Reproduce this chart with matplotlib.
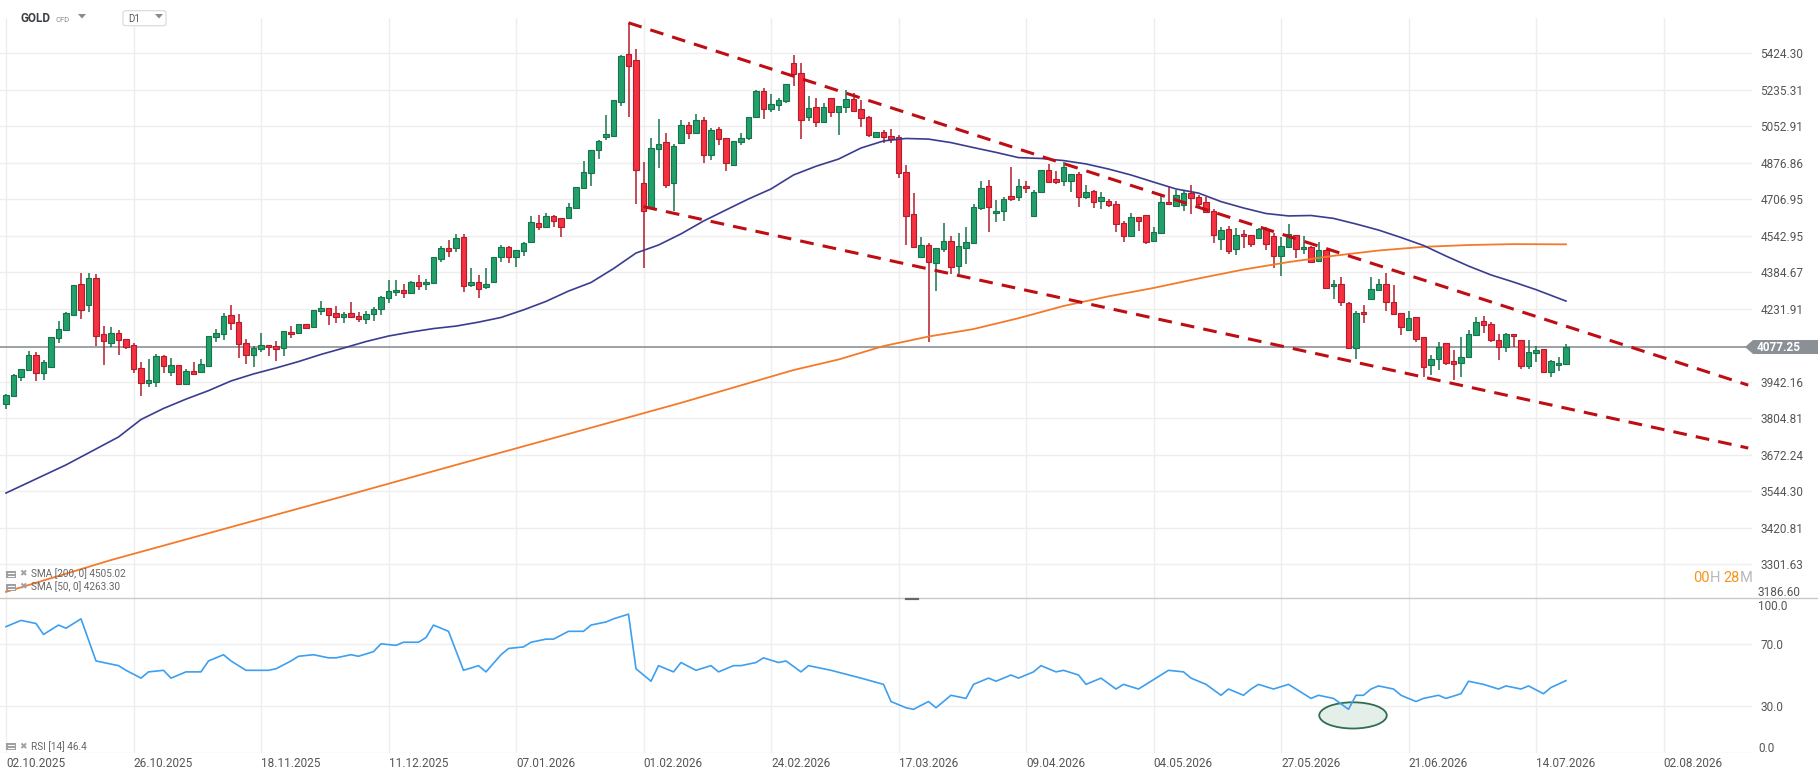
import matplotlib
matplotlib.use("Agg")
import matplotlib.pyplot as plt
from matplotlib.patches import Ellipse, Polygon, FancyBboxPatch, Rectangle
from matplotlib.lines import Line2D
from matplotlib.ticker import FixedLocator, FixedFormatter, NullLocator

plt.rcParams['font.family'] = ['Roboto', 'DejaVu Sans']

# daily OHLC of GOLD CFD, bar 0 = 02.10.2025
opens = [3857, 3889, 3961, 3986, 4046, 3975, 4000, 4112, 4144, 4206,
         4333, 4246, 4359, 4128, 4095, 4132, 4108, 4084, 3994, 3936,
         3942, 4042, 3981, 4006, 3932, 3982, 3978, 4003, 4117, 4128,
         4205, 4176, 4092, 4045, 4068, 4084, 4080, 4072, 4137, 4132,
         4168, 4156, 4221, 4234, 4213, 4199, 4213, 4201, 4189, 4209,
         4229, 4278, 4300, 4309, 4299, 4342, 4334, 4338, 4441, 4488,
         4490, 4539, 4331, 4342, 4323, 4342, 4449, 4495, 4451, 4477,
         4517, 4598, 4583, 4632, 4621, 4623, 4668, 4757, 4830, 4936,
         5002, 5007, 5172, 5420, 5387, 4780, 4670, 4941, 4974, 4780,
         4973, 5057, 5018, 5083, 4915, 5038, 4994, 4865, 4974, 4994,
         5099, 5227, 5137, 5157, 5177, 5372, 5320, 5097, 5147, 5075,
         5192, 5125, 5147, 5188, 5138, 5099, 4999, 5023, 5005, 4999,
         4832, 4638, 4449, 4501, 4423, 4483, 4518, 4410, 4488, 4509,
         4666, 4766, 4643, 4652, 4720, 4716, 4766, 4629, 4739, 4841,
         4799, 4790, 4790, 4822, 4716, 4743, 4697, 4697, 4684, 4598,
         4540, 4625, 4634, 4518, 4554, 4693, 4675, 4679, 4734, 4716,
         4693, 4652, 4527, 4571, 4483, 4551, 4545, 4532, 4571, 4540,
         4455, 4495, 4545, 4483, 4492, 4434, 4480, 4325, 4334, 4254,
         4072, 4218, 4271, 4308, 4334, 4258, 4213, 4144, 4197, 4117,
         4006, 4029, 4092, 4021, 4014, 4037, 4124, 4180, 4168, 4104,
         4079, 4128, 4104, 4002, 4052, 4068, 3978, 4006, 4009]
highs = [3894, 3972, 3991, 4062, 4056, 4026, 4117, 4182, 4217, 4331,
         4383, 4383, 4377, 4161, 4156, 4145, 4110, 4095, 4020, 4029,
         4050, 4046, 4033, 4007, 3990, 4020, 4029, 4121, 4148, 4213,
         4246, 4210, 4108, 4083, 4132, 4086, 4100, 4141, 4161, 4170,
         4170, 4228, 4264, 4236, 4243, 4217, 4260, 4217, 4223, 4238,
         4283, 4352, 4352, 4334, 4346, 4373, 4356, 4449, 4498, 4524,
         4551, 4549, 4401, 4373, 4401, 4451, 4502, 4497, 4482, 4517,
         4631, 4635, 4643, 4634, 4622, 4691, 4763, 4885, 4938, 4986,
         5108, 5183, 5414, 5587, 5447, 4879, 4994, 5087, 5018, 4966,
         5083, 5072, 5112, 5097, 5043, 5049, 4996, 4981, 5018, 5098,
         5234, 5243, 5214, 5193, 5264, 5415, 5372, 5204, 5192, 5167,
         5193, 5155, 5234, 5218, 5183, 5101, 5025, 5034, 5038, 5010,
         4866, 4734, 4539, 4509, 4489, 4598, 4542, 4554, 4583, 4685,
         4791, 4796, 4703, 4716, 4855, 4800, 4791, 4749, 4843, 4871,
         4838, 4879, 4824, 4832, 4772, 4749, 4739, 4707, 4699, 4607,
         4643, 4627, 4636, 4583, 4720, 4762, 4749, 4749, 4771, 4725,
         4716, 4661, 4583, 4586, 4576, 4568, 4546, 4576, 4583, 4554,
         4539, 4595, 4546, 4542, 4499, 4514, 4482, 4352, 4363, 4258,
         4221, 4246, 4366, 4355, 4380, 4329, 4215, 4221, 4199, 4118,
         4045, 4096, 4094, 4064, 4117, 4144, 4198, 4201, 4176, 4130,
         4132, 4130, 4106, 4104, 4081, 4070, 4026, 4039, 4088]
lows = [3839, 3886, 3946, 3984, 3946, 3949, 3996, 4095, 4142, 4203,
        4189, 4220, 4083, 4008, 4079, 4047, 4068, 3975, 3888, 3921,
        3921, 3977, 3965, 3930, 3930, 3968, 3976, 4000, 4099, 4105,
        4145, 4035, 4012, 4000, 4059, 4043, 4023, 4043, 4112, 4130,
        4148, 4154, 4206, 4166, 4175, 4175, 4197, 4179, 4171, 4183,
        4207, 4257, 4286, 4275, 4297, 4309, 4309, 4336, 4430, 4451,
        4473, 4302, 4323, 4278, 4312, 4340, 4430, 4425, 4408, 4455,
        4512, 4568, 4580, 4583, 4539, 4617, 4661, 4755, 4768, 4894,
        4986, 5005, 5154, 5099, 4686, 4404, 4668, 4853, 4760, 4655,
        4965, 4989, 5016, 4877, 4888, 4961, 4839, 4863, 4961, 4986,
        5095, 5088, 5122, 5130, 5167, 5256, 4990, 5080, 5051, 5070,
        5099, 5010, 5120, 5128, 5051, 5002, 4997, 4970, 4970, 4804,
        4502, 4490, 4447, 4099, 4307, 4473, 4377, 4377, 4418, 4507,
        4658, 4558, 4602, 4610, 4700, 4700, 4734, 4628, 4737, 4783,
        4776, 4766, 4739, 4670, 4710, 4666, 4661, 4670, 4558, 4514,
        4539, 4562, 4506, 4514, 4549, 4682, 4673, 4652, 4638, 4670,
        4646, 4512, 4480, 4463, 4457, 4490, 4495, 4530, 4480, 4404,
        4370, 4488, 4447, 4463, 4425, 4430, 4315, 4271, 4243, 4070,
        4029, 4172, 4268, 4307, 4221, 4205, 4125, 4140, 4097, 3961,
        3967, 3986, 4006, 3949, 3961, 4035, 4122, 4132, 4096, 4025,
        4059, 4079, 3990, 3990, 4020, 3975, 3961, 3984, 4006]
closes = [3892, 3968, 3990, 4046, 3977, 4017, 4116, 4148, 4213, 4329,
          4225, 4359, 4123, 4100, 4132, 4104, 4079, 3990, 3936, 3948,
          4043, 4002, 4006, 3932, 3982, 3972, 4011, 4120, 4132, 4201,
          4172, 4088, 4045, 4072, 4084, 4077, 4068, 4140, 4128, 4168,
          4154, 4227, 4235, 4205, 4199, 4209, 4199, 4189, 4209, 4231,
          4282, 4305, 4309, 4299, 4342, 4328, 4342, 4448, 4488, 4477,
          4532, 4328, 4342, 4312, 4334, 4449, 4495, 4451, 4480, 4509,
          4602, 4583, 4631, 4610, 4580, 4670, 4762, 4832, 4936, 4981,
          5014, 5182, 5412, 5359, 4844, 4655, 4946, 4965, 4774, 4955,
          5057, 5018, 5083, 4915, 5033, 4989, 4874, 4979, 4994, 5097,
          5227, 5137, 5162, 5182, 5263, 5314, 5082, 5142, 5075, 5150,
          5125, 5153, 5188, 5130, 5092, 5010, 5023, 4999, 4992, 4827,
          4632, 4492, 4501, 4427, 4488, 4518, 4408, 4497, 4514, 4670,
          4757, 4670, 4652, 4707, 4709, 4766, 4757, 4739, 4841, 4785,
          4785, 4855, 4822, 4716, 4739, 4693, 4716, 4679, 4594, 4540,
          4625, 4607, 4517, 4558, 4693, 4684, 4725, 4734, 4711, 4684,
          4647, 4545, 4568, 4477, 4545, 4540, 4505, 4571, 4505, 4453,
          4497, 4549, 4483, 4492, 4430, 4480, 4317, 4334, 4258, 4072,
          4213, 4209, 4312, 4334, 4258, 4209, 4156, 4193, 4108, 3998,
          4029, 4076, 4016, 4009, 4037, 4128, 4176, 4164, 4104, 4079,
          4128, 4120, 4002, 4056, 4064, 3978, 4021, 4014, 4077.25]

# moving averages (bar index, value)
sma50_bars = [0, 8, 15, 18, 21, 24, 27, 30, 33, 36, 39, 42, 45, 48, 51, 54, 57, 60,
              63, 66, 69, 72, 75, 78, 81, 84, 87, 90, 93, 96, 99, 102, 105, 108,
              111, 114, 117, 120, 123, 126, 129, 132, 135, 138, 141, 144, 147, 150,
              153, 156, 159, 162, 165, 168, 171, 174, 177, 180, 183, 186, 189, 192,
              195, 198, 201, 204, 208]
sma50_vals = [3538, 3636, 3736, 3800, 3841, 3876, 3908, 3945, 3972, 3995, 4020, 4048,
              4073, 4099, 4121, 4137, 4151, 4161, 4177, 4196, 4227, 4262, 4305, 4341,
              4400, 4467, 4502, 4551, 4608, 4658, 4708, 4754, 4819, 4860, 4894, 4947,
              4981, 4993, 4990, 4973, 4949, 4926, 4901, 4897, 4887, 4871, 4847, 4819,
              4786, 4754, 4735, 4696, 4667, 4642, 4631, 4633, 4620, 4595, 4568, 4535,
              4500, 4454, 4411, 4373, 4343, 4311, 4263.30]
sma200_bars = [0, 14, 30, 45, 60, 75, 90, 105, 111, 117, 123, 129, 135, 141, 147,
               153, 159, 165, 171, 177, 183, 189, 195, 201, 208]
sma200_vals = [3214, 3315, 3423, 3527, 3636, 3747, 3862, 3987, 4028, 4081, 4119,
               4149, 4193, 4243, 4283, 4318, 4358, 4396, 4428, 4455, 4478, 4494,
               4502, 4506, 4505.02]

rsi_bars = [0, 2, 4, 5, 7, 8, 10, 12, 13, 15, 16, 18, 19, 21, 22, 24, 26, 27, 29, 30,
            32, 33, 35, 36, 38, 39, 41, 43, 44, 46, 47, 49, 50, 52, 53, 55, 56, 57, 59,
            61, 63, 64, 66, 67, 69, 70, 72, 73, 75, 77, 78, 80, 81, 83, 84, 86, 87, 89,
            90, 92, 94, 95, 97, 98, 100, 101, 103, 104, 106, 107, 110, 114, 117, 118,
            120, 121, 123, 124, 126, 128, 129, 131, 132, 134, 135, 137, 138, 140, 141,
            143, 144, 146, 148, 149, 151, 152, 154, 155, 157, 158, 160, 162, 163, 165,
            166, 167, 169, 171, 172, 174, 175, 177, 179, 180, 181, 182, 183, 185, 186,
            188, 189, 191, 192, 194, 195, 197, 199, 200, 202, 203, 205, 206, 208]
rsi_vals = [81, 85, 83, 76, 82, 80, 86, 59, 58, 56, 53, 48, 52, 53, 48, 52, 52, 59, 63, 59,
            53, 53, 53, 54, 59, 62, 63, 61, 61, 63, 62, 65, 70, 69, 71, 71, 74, 82, 78,
            53, 56, 52, 63, 67, 68, 71, 73, 73, 78, 78, 82, 84, 86, 89, 54, 46, 56, 52,
            58, 53, 56, 52, 56, 56, 58, 61, 58, 59, 52, 56, 53, 48, 44, 33,
            29, 28, 33, 29, 37, 35, 44, 48, 46, 50, 48, 52, 56, 52, 53,
            50, 44, 48, 41, 44, 41, 44, 50, 53, 52, 48, 44, 37, 41, 37,
            41, 44, 41, 44, 41, 35, 37, 35, 28, 37, 37, 41, 43, 41, 37,
            33, 35, 37, 35, 38, 46, 44, 41, 43, 41, 43, 38, 42, 46.4]

# channel lines drawn on the chart: (bar, price) start and end
upper_line = [(83, 5587), (232.3, 3929)]
lower_line = [(85, 4673), (232.3, 3696)]

price_ticks = [3301.63, 3420.81, 3544.30, 3672.24, 3804.81, 3942.16,
               4231.91, 4384.67, 4542.95, 4706.95, 4876.86, 5052.91, 5235.31, 5424.30]
bottom_tick = 3186.60
last_price = 4077.25
date_labels = ['02.10.2025', '26.10.2025', '18.11.2025', '11.12.2025', '07.01.2026',
               '01.02.2026', '24.02.2026', '17.03.2026', '09.04.2026', '04.05.2026',
               '27.05.2026', '21.06.2026', '14.07.2026', '02.08.2026']
bars_per_label = 17

W, H = 1818, 779
fig = plt.figure(figsize=(W / 100, H / 100), dpi=100)
fig.patch.set_facecolor('white')


def fy(py):
    return 1 - py / H


ax = fig.add_axes([0, fy(600.7), 1752 / W, (600.7 - 18) / H])
ax_rsi = fig.add_axes([0, fy(753), 1752 / W, (753 - 597) / H])

grid_c = '#eeeeee'
txt_c = '#555555'
x_ticks = [k * bars_per_label for k in range(len(date_labels))]

# ---- price panel ----
ax.set_yscale('log')
ax.set_ylim(bottom_tick, 5613)
ax.set_xlim(-0.8, 232.8)
for s in ax.spines.values():
    s.set_visible(False)
for p in price_ticks:
    ax.axhline(p, color=grid_c, lw=1, zorder=0)
for xt in x_ticks:
    ax.axvline(xt, color=grid_c, lw=1, zorder=0)

g_fill, g_edge = '#22a06b', '#16744a'
r_fill, r_edge = '#f5303f', '#b31c2b'
for i in range(len(closes)):
    o, h, l, c = opens[i], highs[i], lows[i], closes[i]
    up = c >= o
    fc, ec = (g_fill, g_edge) if up else (r_fill, r_edge)
    ax.vlines(i, l, h, color=ec, lw=1.1, zorder=2)
    lo, hi = min(o, c), max(o, c)
    if hi - lo < 1.5:
        hi = lo + 1.5
    ax.bar(i, hi - lo, bottom=lo, width=0.68, color=fc, edgecolor=ec,
           linewidth=0.8, zorder=3)

ax.plot(sma200_bars, sma200_vals, color='#f47a2a', lw=1.3, zorder=4)
ax.plot(sma50_bars, sma50_vals, color='#3a3d8f', lw=1.2, zorder=4)

for line in (upper_line, lower_line):
    xs = [pt[0] for pt in line]
    ys = [pt[1] for pt in line]
    ax.plot(xs, ys, color='#bf0d14', lw=2.2, ls=(0, (4.5, 3)), zorder=5)

ax.axhline(last_price, color='#8c9196', lw=1.2, zorder=1)

ax.yaxis.tick_right()
ax.yaxis.set_major_locator(FixedLocator(price_ticks))
ax.yaxis.set_major_formatter(FixedFormatter(['%.2f' % p for p in price_ticks]))
ax.yaxis.set_minor_locator(NullLocator())
ax.tick_params(axis='y', length=0, pad=6, labelsize=8.5, labelcolor=txt_c)
ax.set_xticks([])

# ---- RSI panel ----
ax_rsi.set_xlim(-0.8, 232.8)
ax_rsi.set_ylim(0, 100)
ax_rsi.set_facecolor('white')
for s in ax_rsi.spines.values():
    s.set_visible(False)
for v in (0, 30, 70):
    ax_rsi.axhline(v, color=grid_c, lw=1, zorder=0)
for xt in x_ticks:
    ax_rsi.axvline(xt, color=grid_c, lw=1, zorder=0)
ax_rsi.add_patch(Ellipse((179.6, 24.1), 9.0, 16.8, facecolor='#e3efe8',
                         edgecolor='#2f6e51', lw=1.3, zorder=2))
ax_rsi.plot(rsi_bars, rsi_vals, color='#3c9ff0', lw=1.2, zorder=3)
ax_rsi.yaxis.tick_right()
ax_rsi.set_yticks([30, 70])
ax_rsi.set_yticklabels(['30.0', '70.0'])
ax_rsi.tick_params(axis='y', length=0, pad=6, labelsize=8.5, labelcolor=txt_c)
ax_rsi.set_xticks(x_ticks)
ax_rsi.set_xticklabels(date_labels)
ax_rsi.tick_params(axis='x', length=0, pad=3, labelsize=8.5, labelcolor=txt_c)
for lbl in ax_rsi.get_xticklabels():
    lbl.set_ha('left')

# edge labels that the chart pulls inside its panels
fig.text(1758 / W, fy(592.5), '%.2f' % bottom_tick, fontsize=8.5, color=txt_c,
         va='center', ha='left')
fig.text(1758 / W, fy(607), '100.0', fontsize=8.5, color=txt_c, va='center', ha='left')
fig.text(1758 / W, fy(748), '0.0', fontsize=8.5, color=txt_c, va='center', ha='left')

# ---- decorations in figure pixels ----
fig.add_artist(Line2D([0, 1], [fy(598), fy(598)], color='#c9c9c9', lw=1))
fig.add_artist(Line2D([906 / W, 918 / W], [fy(599), fy(599)], color='#666666', lw=1.6))

# current price tag
ty = ax.transData.transform((0, last_price))[1] / H
tag = Polygon([(1745 / W, ty), (1753 / W, ty + 7 / H), (1818 / W, ty + 7 / H),
               (1818 / W, ty - 7 / H), (1753 / W, ty - 7 / H)], closed=True,
              transform=fig.transFigure, facecolor='#8a9095', edgecolor='none')
fig.add_artist(tag)
fig.text(1757 / W, ty, '%.2f' % last_price, color='white', fontsize=8.5,
         fontweight='bold', va='center', ha='left')

# header
fig.text(20.5 / W, fy(18.5), 'GOLD', fontsize=8.5, fontweight='bold', color='#3a3f44',
         va='center', ha='left')
fig.text(55 / W, fy(19.5), 'CFD', fontsize=5.5, color='#8a8a8a', va='center', ha='left')
fig.add_artist(FancyBboxPatch((123 / W, fy(25.7)), 43 / W, 15 / H,
                              boxstyle='round,pad=0,rounding_size=0.002',
                              transform=fig.transFigure, facecolor='white',
                              edgecolor='#d8d8d8', lw=0.8, zorder=5))
for cx in (82, 159):
    fig.add_artist(Polygon([((cx - 4) / W, fy(14)), ((cx + 4) / W, fy(14)), (cx / W, fy(18.5))],
                           closed=True, transform=fig.transFigure, facecolor='#8a8a8a',
                           edgecolor='none', zorder=6))
fig.text(128 / W, fy(18.5), 'D1', fontsize=7, color='#555555', va='center', ha='left',
         zorder=7)

# indicator legends
legend_rows = [(574, 'SMA [200, 0] 4505.02'), (587, 'SMA [50, 0] 4263.30'),
               (746.5, 'RSI [14] 46.4')]
for yy, label in legend_rows:
    fig.add_artist(Rectangle((6 / W, fy(yy + 3.5)), 10 / W, 7 / H, transform=fig.transFigure,
                             facecolor='#a0a0a0', edgecolor='none'))
    for dy in (-1.5, 1.5):
        fig.add_artist(Line2D([8 / W, 14 / W], [fy(yy + dy), fy(yy + dy)], color='white', lw=0.7))
    fig.text(19 / W, fy(yy), '\u2716', fontsize=6.5, color='#a0a0a0', va='center',
             ha='left', family='DejaVu Sans')
    fig.text(31 / W, fy(yy), label, fontsize=7.2, color='#666666', va='center', ha='left')

# session countdown, right-aligned to the plot edge
pieces = [('00', '#f7931e'), ('H ', '#b8b8b8'), ('28', '#f7931e'), ('M', '#b8b8b8')]
renderer = fig.canvas.get_renderer()
texts = [fig.text(0, fy(578), s, fontsize=10.5, color=col, va='center', ha='left')
         for s, col in pieces]
widths = [t.get_window_extent(renderer).width for t in texts]
xpos = 1753 - sum(widths)
for t, w in zip(texts, widths):
    t.set_x(xpos / W)
    xpos += w

fig.savefig('out.png', dpi=100, facecolor='white')
